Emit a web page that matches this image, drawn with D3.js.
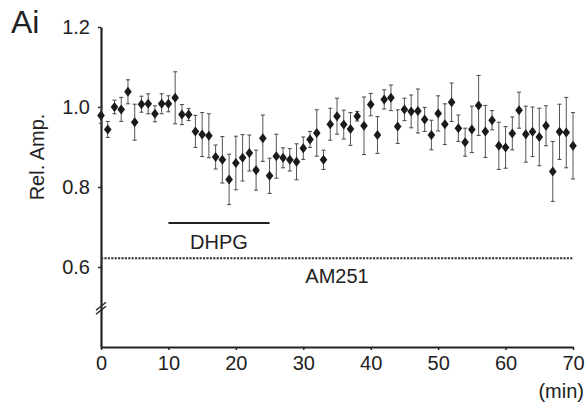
<!DOCTYPE html>
<html>
<head>
<meta charset="utf-8">
<script src="https://cdn.jsdelivr.net/npm/d3@7"></script>
<style>
  html, body { margin: 0; padding: 0; background: #fff; }
  text { font-family: "Liberation Sans", Arial, sans-serif; fill: #222; }
</style>
</head>
<body>
<div id="chart"></div>
<script>
const width = 586;
const height = 406;
const margin = { top: 27, right: 13, bottom: 59, left: 101 };
const graphWidth = width - margin.left - margin.right;
const graphHeight = height - margin.top - margin.bottom;

// time (min)
const minutes = [0, 1, 2, 3, 4, 5, 6, 7, 8, 9, 10, 11, 12, 13, 14, 15, 16, 17, 18, 19,
    20, 21, 22, 23, 24, 25, 26, 27, 28, 29, 30, 31, 32, 33, 34, 35, 36, 37, 38, 39,
    40, 41, 42, 43, 44, 45, 46, 47, 48, 49, 50, 51, 52, 53, 54, 55, 56, 57, 58, 59,
    60, 61, 62, 63, 64, 65, 66, 67, 68, 69, 70];

// relative amplitude (mean)
const relAmp = [0.979, 0.944, 1.000, 0.994, 1.038, 0.962, 1.007, 1.008, 0.983, 1.008,
    1.008, 1.023, 0.981, 0.981, 0.939, 0.931, 0.928, 0.875, 0.868, 0.819,
    0.860, 0.873, 0.885, 0.842, 0.922, 0.828, 0.877, 0.873, 0.868, 0.863,
    0.897, 0.919, 0.935, 0.868, 0.957, 0.977, 0.956, 0.945, 0.977, 0.953,
    1.006, 0.930, 1.019, 1.023, 0.951, 0.994, 0.989, 0.990, 0.969, 0.930,
    0.984, 0.957, 1.012, 0.947, 0.912, 0.944, 1.004, 0.939, 0.967, 0.903,
    0.899, 0.934, 0.992, 0.932, 0.938, 0.925, 0.953, 0.839, 0.938, 0.936,
    0.903];

// s.e.m.
const relAmpErr = [0.020, 0.020, 0.017, 0.030, 0.030, 0.045, 0.020, 0.025, 0.020, 0.025,
    0.020, 0.065, 0.025, 0.015, 0.040, 0.055, 0.055, 0.030, 0.058, 0.063,
    0.067, 0.058, 0.045, 0.050, 0.058, 0.044, 0.055, 0.025, 0.028, 0.045,
    0.028, 0.020, 0.058, 0.024, 0.040, 0.045, 0.036, 0.041, 0.012, 0.072,
    0.028, 0.046, 0.024, 0.032, 0.042, 0.028, 0.041, 0.055, 0.030, 0.037,
    0.044, 0.051, 0.048, 0.033, 0.035, 0.058, 0.075, 0.065, 0.024, 0.059,
    0.052, 0.041, 0.045, 0.070, 0.062, 0.072, 0.050, 0.075, 0.069, 0.088,
    0.083];

const xTicks = [0, 10, 20, 30, 40, 50, 60, 70];
const yTicks = [0.6, 0.8, 1.0, 1.2];

// drug application bars
const dhpgRange = [10, 25];
const dhpgLevel = 0.71;
const am251Range = [0, 70];
const am251Level = 0.622;

const data = minutes.map((m, i) => ({ t: m, v: relAmp[i], e: relAmpErr[i] }));

const svg = d3.select('#chart')
    .append('svg')
    .attr('width', width)
    .attr('height', height);

const graph = svg.append('g')
    .attr('transform', `translate(${margin.left}, ${margin.top})`);

const x = d3.scaleLinear()
    .domain([0, 70])
    .range([0, graphWidth]);

const y = d3.scaleLinear()
    .domain([0.4, 1.2])
    .range([graphHeight, 0]);

// axes
const xAxis = d3.axisBottom(x).tickValues(xTicks).tickSize(3).tickSizeOuter(0).tickPadding(6);
const yAxis = d3.axisLeft(y).tickValues(yTicks).tickSize(3).tickSizeOuter(0).tickPadding(8)
    .tickFormat(d3.format('.1f'));

const gXAxis = graph.append('g')
    .attr('transform', `translate(0, ${graphHeight})`)
    .call(xAxis);

const gYAxis = graph.append('g')
    .call(yAxis);

[gXAxis, gYAxis].forEach(g => {
    g.select('.domain').attr('stroke', '#222').attr('stroke-width', 2.2);
    g.selectAll('.tick line').attr('stroke', '#222').attr('stroke-width', 1.5);
    g.selectAll('text').style('font-size', '20px').style('font-family', '"Liberation Sans", Arial, sans-serif').attr('fill', '#222');
});

// axis break
const breakY = y(0.497);
[-2, 2].forEach(off => {
    graph.append('line')
        .attr('x1', -5).attr('x2', 5)
        .attr('y1', breakY + off + 4).attr('y2', breakY + off - 4)
        .attr('stroke', '#222')
        .attr('stroke-width', 1.4);
});

// AM251 dotted line
graph.append('line')
    .attr('x1', x(am251Range[0]))
    .attr('x2', x(am251Range[1]))
    .attr('y1', y(am251Level))
    .attr('y2', y(am251Level))
    .attr('stroke', '#333')
    .attr('stroke-width', 2)
    .attr('stroke-dasharray', '2.2,1.2');

graph.append('text')
    .attr('x', x(35))
    .attr('y', y(am251Level) + 25)
    .attr('text-anchor', 'middle')
    .style('font-size', '20px')
    .text('AM251');

// DHPG bar
graph.append('line')
    .attr('x1', x(dhpgRange[0]))
    .attr('x2', x(dhpgRange[1]))
    .attr('y1', y(dhpgLevel))
    .attr('y2', y(dhpgLevel))
    .attr('stroke', '#222')
    .attr('stroke-width', 2.2);

graph.append('text')
    .attr('x', x((dhpgRange[0] + dhpgRange[1]) / 2))
    .attr('y', y(dhpgLevel) + 26)
    .attr('text-anchor', 'middle')
    .style('font-size', '20px')
    .text('DHPG');

// error bars
const errG = graph.append('g').attr('class', 'errors');
const bars = errG.selectAll('g').data(data).enter().append('g');

bars.append('line')
    .attr('x1', d => x(d.t)).attr('x2', d => x(d.t))
    .attr('y1', d => y(d.v + d.e)).attr('y2', d => y(d.v - d.e))
    .attr('stroke', '#555').attr('stroke-width', 1);

bars.append('line')
    .attr('x1', d => x(d.t) - 2).attr('x2', d => x(d.t) + 2)
    .attr('y1', d => y(d.v + d.e)).attr('y2', d => y(d.v + d.e))
    .attr('stroke', '#444').attr('stroke-width', 1);

bars.append('line')
    .attr('x1', d => x(d.t) - 2).attr('x2', d => x(d.t) + 2)
    .attr('y1', d => y(d.v - d.e)).attr('y2', d => y(d.v - d.e))
    .attr('stroke', '#444').attr('stroke-width', 1);

// diamond markers
graph.append('g').selectAll('path')
    .data(data)
    .enter()
    .append('path')
    .attr('d', 'M0,-5L3.8,0L0,5L-3.8,0Z')
    .attr('transform', d => `translate(${x(d.t)}, ${y(d.v)})`)
    .attr('fill', '#1a1a1a');

// labels
svg.append('text')
    .attr('x', 11)
    .attr('y', 33)
    .style('font-size', '32px')
    .text('Ai');

svg.append('text')
    .attr('transform', 'translate(44, 157) rotate(-90)')
    .attr('text-anchor', 'middle')
    .style('font-size', '20px')
    .text('Rel. Amp.');

svg.append('text')
    .attr('x', 584)
    .attr('y', 398)
    .attr('text-anchor', 'end')
    .style('font-size', '20px')
    .text('(min)');
</script>
</body>
</html>
